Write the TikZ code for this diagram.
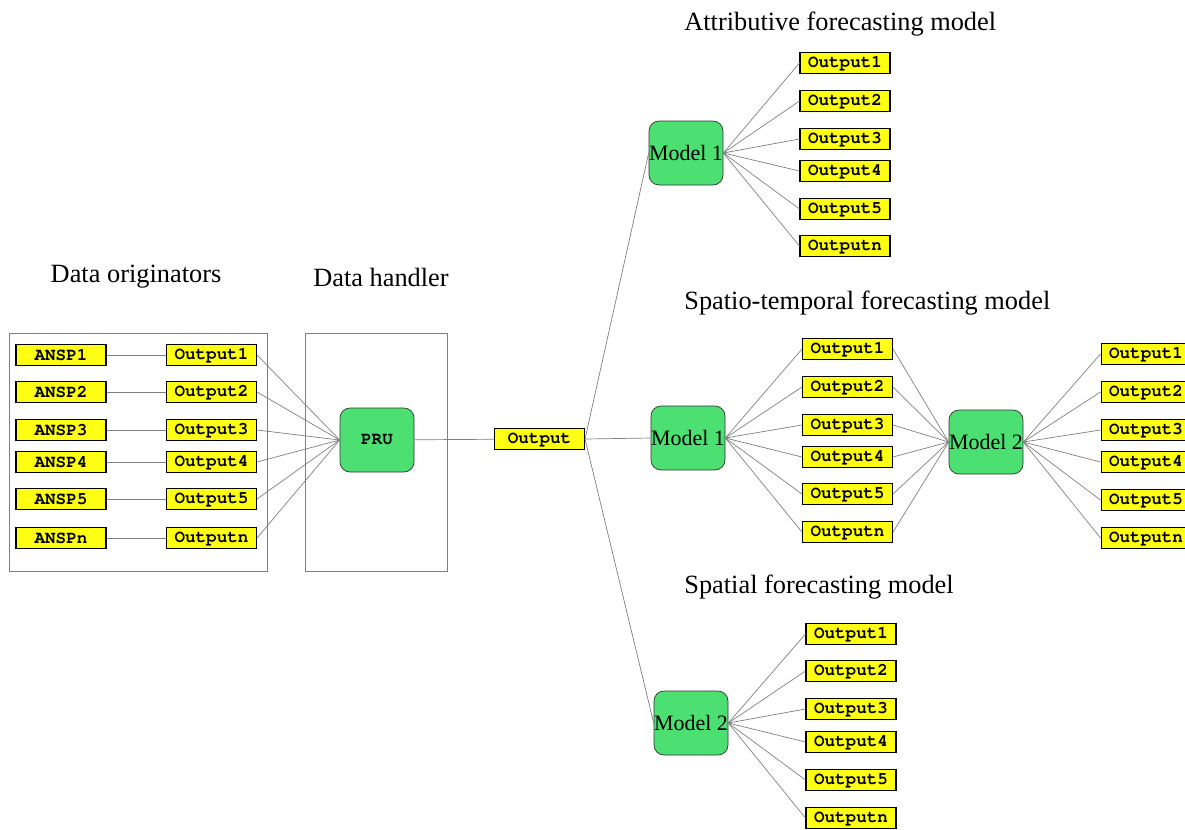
\documentclass[tikz,border=0pt]{standalone}
\usepackage[T1]{fontenc}
\usepackage{fontspec}
\setmainfont{Liberation Serif}
\usepackage{xcolor}
\definecolor{boxyellow}{RGB}{255,255,20}
\definecolor{modelgreen}{RGB}{76,224,114}
\newcommand{\boxfont}{\fontencoding{T1}\fontfamily{pcr}\fontseries{b}\fontsize{10}{12}\selectfont}

\begin{document}
\begin{tikzpicture}[x=0.02cm, y=-0.02cm,
    outbox/.style={draw=black, line width=0.6pt, fill=boxyellow, minimum width=1.8cm, minimum height=0.42cm, inner sep=0pt, font=\boxfont},
    modelbox/.style={draw=black!80, fill=modelgreen, rounded corners=0.2cm, minimum width=1.48cm, minimum height=1.28cm, inner sep=0pt, font=\fontsize{12.5}{14}\selectfont},
    link/.style={gray, line width=0.4pt},
    title/.style={font=\fontsize{15}{18}\selectfont}]
    \useasboundingbox (0,0) rectangle (1185,829);

    % Titles
    \node[title] (tsrc) at (136,277) {Data originators};
    \node[title] (thnd) at (381,277) {Data handler};
    \node[title, anchor=west, inner sep=0pt] (tattr) at (684,24) {Attributive forecasting model};
    \node[title, anchor=west, inner sep=0pt] (tst) at (684,303) {Spatio-temporal forecasting model};
    \node[title, anchor=west, inner sep=0pt] (tsp) at (684,587) {Spatial forecasting model};

    % Frames
    \draw[gray] (9,333) rectangle (267,571);
    \draw[gray] (305,333) rectangle (447,571);

    % Data handler
    \node[modelbox, font=\boxfont] (pru) at (377,440) {PRU};
    \node[outbox] (out) at (539.5,439) {Output};
    \draw[link] (pru) -- (out);

    % Data originators
    \foreach \i/\y in {1/355,2/392,3/430,4/462,5/499,n/538} {
        \node[outbox] (ansp\i) at (61,\y) {ANSP\i};
        \node[outbox] (src\i) at (211.5,\y) {Output\i};
        \draw[link] (ansp\i) -- (src\i);
        \draw[link] (src\i.east) -- (pru.west);
    }

    % Models
    \node[modelbox] (attr) at (686,153) {Model 1};
    \node[modelbox] (st1) at (688,438) {Model 1};
    \node[modelbox] (st2) at (986,442) {Model 2};
    \node[modelbox] (sp) at (691,723) {Model 2};
    \draw[link] (out.east) -- (attr.west);
    \draw[link] (out.east) -- (st1.west);
    \draw[link] (out.east) -- (sp.west);

    % Attributive outputs
    \foreach \i/\y in {1/63,2/101,3/139,4/171,5/209,n/246} {
        \node[outbox] (ao\i) at (845,\y) {Output\i};
        \draw[link] (attr.east) -- (ao\i.west);
    }
    % Spatio-temporal outputs
    \foreach \i/\y in {1/349,2/387,3/425,4/457,5/494,n/532} {
        \node[outbox] (so\i) at (847.5,\y) {Output\i};
        \draw[link] (st1.east) -- (so\i.west);
        \draw[link] (so\i.east) -- (st2.west);
    }
    \foreach \i/\y in {1/354,2/392,3/430,4/462,5/500,n/538} {
        \node[outbox] (fo\i) at (1146,\y) {Output\i};
        \draw[link] (st2.east) -- (fo\i.west);
    }
    % Spatial outputs
    \foreach \i/\y in {1/634,2/671,3/709,4/742,5/780,n/818} {
        \node[outbox] (po\i) at (851,\y) {Output\i};
        \draw[link] (sp.east) -- (po\i.west);
    }
\end{tikzpicture}
\end{document}
